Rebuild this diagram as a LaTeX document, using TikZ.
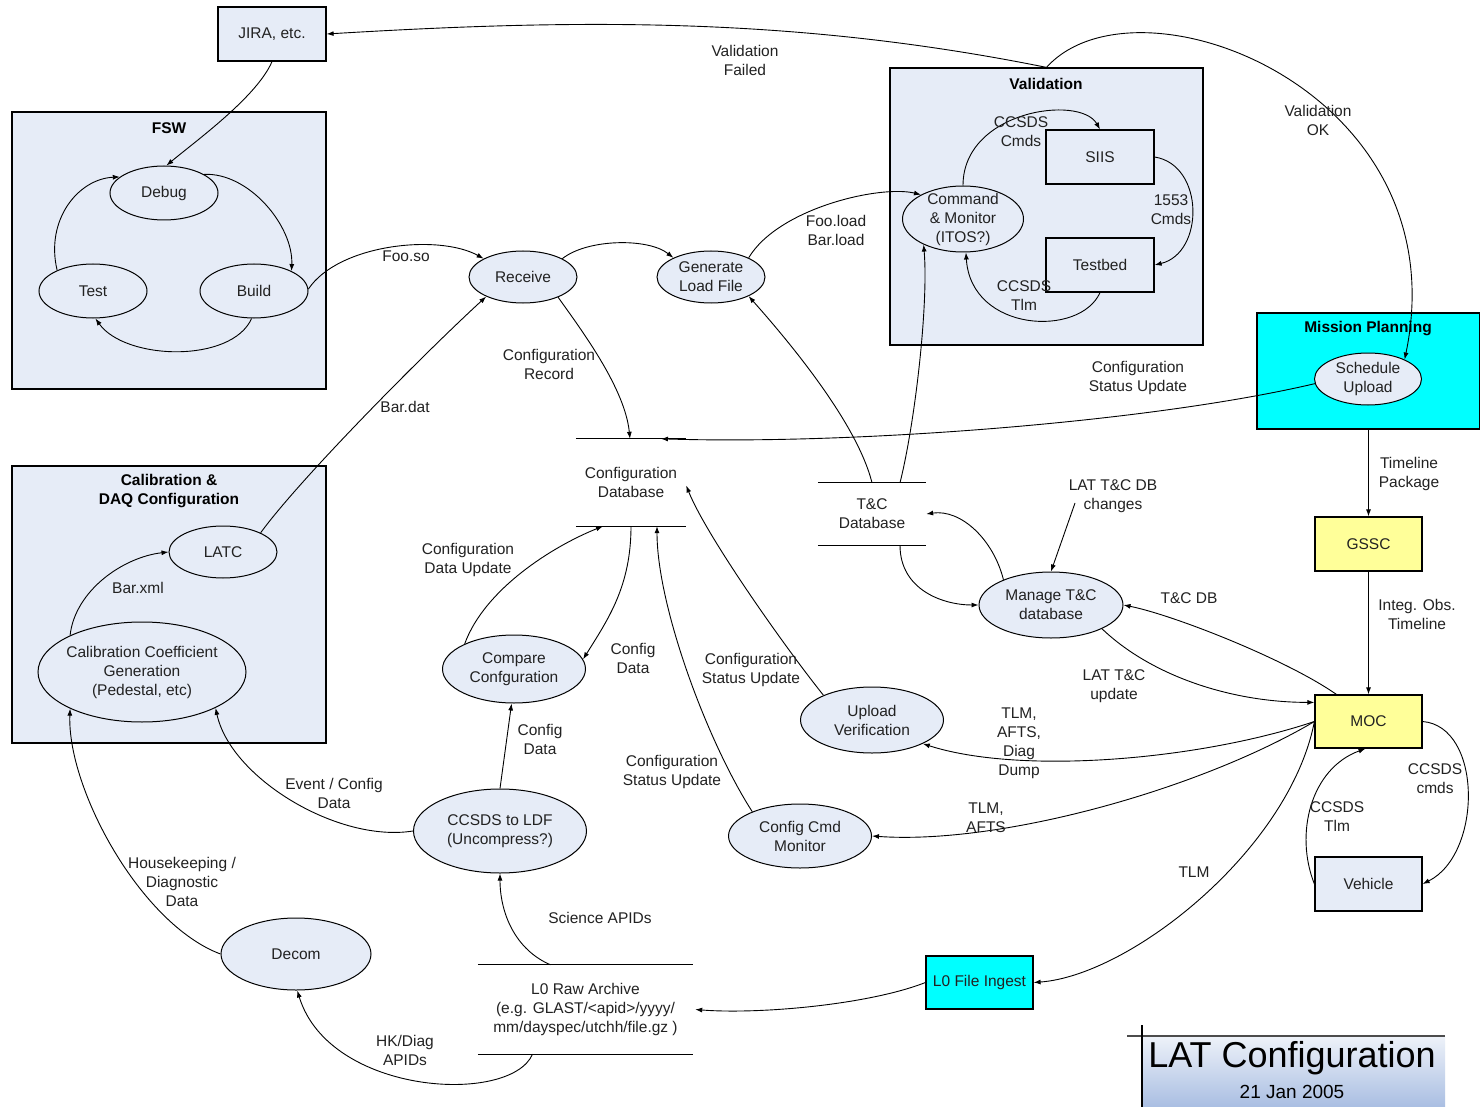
\documentclass[tikz,border=0pt]{standalone}
\usepackage{fontspec}
\setmainfont{Liberation Sans}
\usetikzlibrary{shapes.geometric,arrows.meta,calc}
\definecolor{boxfill}{HTML}{E6ECF7}
\definecolor{mpcyan}{HTML}{00FFFF}
\definecolor{mocyellow}{HTML}{FFFF99}
\definecolor{txt}{HTML}{222222}
\definecolor{titletop}{HTML}{EEF2F9}
\definecolor{titlebot}{HTML}{A9BEE2}
\begin{document}
\begin{tikzpicture}[x=1pt,y=-1pt,
  font=\fontsize{15.5}{19}\selectfont, text=txt,
  procnode/.style={ellipse,draw,fill=boxfill,inner sep=0pt,align=center,line width=1pt},
  boxnode/.style={rectangle,draw,fill=boxfill,inner sep=0pt,align=center,line width=1.2pt},
  groupnode/.style={rectangle,draw,fill=boxfill,inner sep=0pt,line width=1.2pt},
  grouptitle/.style={font=\fontsize{15.5}{19}\selectfont\bfseries,align=center,inner sep=0pt,text=black},
  lblnode/.style={align=center,inner sep=0pt},
  storenode/.style={align=center,inner sep=0pt},
  storeline/.style={line width=1.2pt},
  flowline/.style={line width=0.9pt,-{Latex[length=7pt,width=5pt]}},
]
\useasboundingbox (0,0) rectangle (1480,1107);
\fill[white] (0,0) rectangle (1480,1107);

% ---------- group boxes
\node[groupnode,minimum width=314pt,minimum height=277pt] (fsw) at (169,250.5) {};
\node[grouptitle] (fswtitle) at (169,128) {FSW};
\node[groupnode,minimum width=313pt,minimum height=277pt] (validation) at (1046.5,206.5) {};
\node[grouptitle] (valtitle) at (1046,84) {Validation};
\node[groupnode,minimum width=314pt,minimum height=277pt] (calibgrp) at (169,604.5) {};
\node[grouptitle] (caltitle) at (169,491) {Calibration \&\\DAQ Configuration};
\node[groupnode,fill=mpcyan,minimum width=223pt,minimum height=116pt] (mp) at (1368.5,371) {};
\node[grouptitle] (mptitle) at (1368,329) {Mission Planning};

% ---------- boxes
\node[boxnode,minimum width=108pt,minimum height=54pt] (jira) at (272,34) {JIRA, etc.};
\node[boxnode,minimum width=108pt,minimum height=54pt] (siis) at (1100,157) {SIIS};
\node[boxnode,minimum width=108pt,minimum height=54pt] (testbed) at (1100,265) {Testbed};
\node[boxnode,fill=mocyellow,minimum width=107pt,minimum height=54pt] (gssc) at (1368.5,544) {GSSC};
\node[boxnode,fill=mocyellow,minimum width=107pt,minimum height=53pt] (moc) at (1368.5,721.5) {MOC};
\node[boxnode,minimum width=107pt,minimum height=54pt] (vehicle) at (1368.5,884) {Vehicle};
\node[boxnode,fill=mpcyan,minimum width=107pt,minimum height=53pt] (l0fi) at (979.5,982.5) {L0 File Ingest};

% ---------- processes
\node[procnode,minimum width=108pt,minimum height=54pt] (debug) at (164,193) {Debug};
\node[procnode,minimum width=108pt,minimum height=54pt] (test) at (93,291) {Test};
\node[procnode,minimum width=108pt,minimum height=54pt] (build) at (254,291) {Build};
\node[procnode,minimum width=108pt,minimum height=52pt] (receive) at (523,277) {Receive};
\node[procnode,minimum width=108pt,minimum height=52pt] (generate) at (711,277) {Generate\\Load File};
\node[procnode,minimum width=121pt,minimum height=66pt,inner ysep=-3pt] (cm) at (963,219) {Command\\\& Monitor\\(ITOS?)};
\node[procnode,minimum width=107pt,minimum height=52pt] (schedule) at (1368,379) {Schedule\\Upload};
\node[procnode,minimum width=108pt,minimum height=52pt] (latc) at (223,552) {LATC};
\node[procnode,minimum width=208pt,minimum height=100pt,inner xsep=-5pt] (calib) at (142,672) {Calibration Coefficient\\Generation\\(Pedestal, etc)};
\node[procnode,minimum width=143pt,minimum height=68pt] (compare) at (514,669) {Compare\\Confguration};
\node[procnode,minimum width=173pt,minimum height=84pt] (ldf) at (500,831) {CCSDS to LDF\\(Uncompress?)};
\node[procnode,minimum width=143pt,minimum height=66pt] (uv) at (872,720) {Upload\\Verification};
\node[procnode,minimum width=143pt,minimum height=64pt] (ccm) at (800,836) {Config Cmd\\Monitor};
\node[procnode,minimum width=144pt,minimum height=66pt] (manage) at (1051,605) {Manage T\&C\\database};
\node[procnode,minimum width=150pt,minimum height=72pt] (decom) at (296,954) {Decom};

% ---------- data stores
\node[storenode,minimum width=110pt,minimum height=87pt] (cfgdb) at (631,482.5) {Configuration\\Database};
\draw[storeline] (cfgdb.north west) -- (cfgdb.north east);
\draw[storeline] (cfgdb.south west) -- (cfgdb.south east);
\node[storenode,minimum width=108pt,minimum height=62pt] (tcdb) at (872,514) {T\&C\\Database};
\draw[storeline] (tcdb.north west) -- (tcdb.north east);
\draw[storeline] (tcdb.south west) -- (tcdb.south east);
\node[storenode,minimum width=215pt,minimum height=89pt] (l0) at (585.5,1009.5) {L0 Raw Archive\\(e.g. GLAST/<apid>/yyyy/\\mm/dayspec/utchh/file.gz )};
\draw[storeline] (l0.north west) -- (l0.north east);
\draw[storeline] (l0.south west) -- (l0.south east);

\coordinate (chg) at (1075,503);

% ---------- connectors: FSW
\draw[flowline] (jira.south) .. controls +(-15,35) and +(30,-25) .. (debug.85);
\draw[flowline] (test.150) .. controls +(-12,-50) and +(-42,2) .. (debug.160);
\draw[flowline] (debug.25) .. controls +(45,-2) and +(2,-45) .. (build.28);
\draw[flowline] (build.265) .. controls +(-20,45) and +(30,42) .. (test.275);
\draw[flowline] (build.2) .. controls +(30,-45) and +(-45,-25) .. (receive.155);
\draw[flowline] (receive.25) .. controls +(25,-20) and +(-25,-20) .. (generate.153);
\draw[flowline] (generate.27) .. controls +(30,-50) and +(-40,-10) .. (cm.150);

% validation
\draw[flowline] (validation.north) .. controls +(-253,-51) and +(250,-15) .. (jira.east);
\draw[flowline] (validation.north) .. controls +(90,-100) and +(56,-270) .. (schedule.28);
\draw[flowline] (cm.90) .. controls +(0,-75) and +(-20,-35) .. (siis.north);
\draw[flowline] (siis.east) .. controls +(50,8) and +(50,-12) .. (testbed.east);
\draw[flowline] (testbed.south) .. controls +(-20,45) and +(5,80) .. (cm.275);

% T&C database
\draw[flowline] ([xshift=28pt]tcdb.north) .. controls +(15,-60) and +(5,60) .. (cm.213);
\draw[flowline] (tcdb.north) .. controls +(-15,-60) and +(40,45) .. (generate.-27);
\draw[flowline] (manage.152) .. controls +(-10,-40) and +(35,-5) .. (tcdb.east);
\draw[flowline] ([xshift=28pt]tcdb.south) .. controls +(0,45) and +(-35,0) .. (manage.west);
\draw[flowline] (chg) -- (manage.north);

% configuration database
\draw[flowline] (receive.-30) .. controls +(25,35) and +(-5,-50) .. ([xshift=-1pt]cfgdb.north);
\draw[flowline] (schedule.185) .. controls +(-166,39) and +(190,6) .. ([xshift=30pt]cfgdb.north);
\draw[flowline] (uv.153) .. controls +(-40,-50) and +(20,50) .. ([yshift=-3pt]cfgdb.east);
\draw[flowline] (ccm.153) .. controls +(-45,-70) and +(0,80) .. ([xshift=26pt]cfgdb.south);
\draw[flowline] (cfgdb.south) .. controls +(0,60) and +(25,-40) .. (compare.8);
\draw[flowline] (compare.153) .. controls +(20,-55) and +(-50,20) .. ([xshift=-28pt]cfgdb.south);
\draw[flowline] (ldf.north) -- (compare.266);

% calibration and archive
\draw[flowline] (ldf.west) .. controls +(-75,12) and +(15,70) .. (calib.-26);
\draw[flowline] (decom.west) .. controls +(-80,-30) and +(-3,80) .. (calib.207);
\draw[flowline] ([xshift=-35pt]l0.north) .. controls +(-35,-15) and +(0,40) .. (ldf.south);
\draw[flowline] ([xshift=-53pt]l0.south) .. controls +(-22,51) and +(32,105) .. (decom.272);
\draw[flowline] (l0fi.west) .. controls +(-56,22) and +(65,5) .. ([xshift=2pt]l0.east);
\draw[flowline] (latc.27) .. controls +(40,-55) and +(-60,55) .. (receive.208);
\draw[flowline] (calib.153) .. controls +(5,-45) and +(-45,5) .. (latc.west);

% MOC
\draw[flowline] (mp.south) -- (gssc.north);
\draw[flowline] (gssc.south) -- (moc.north);
\draw[flowline] (manage.-25) .. controls +(48,46) and +(-85,0) .. ([yshift=-8pt]moc.north west);
\draw[flowline] ([xshift=22pt]moc.north west) .. controls +(-50,-35) and +(50,10) .. (manage.east);
\draw[flowline] (moc.west) .. controls +(-115,38.5) and +(98,31.5) .. (uv.-25);
\draw[flowline] (moc.west) .. controls +(-115,68) and +(128,9) .. (ccm.east);
\draw[flowline] (moc.west) .. controls +(-25,128) and +(97,-7) .. (l0fi.east);
\draw[flowline] (moc.east) .. controls +(60,5) and +(60,-30) .. (vehicle.east);
\draw[flowline] (vehicle.west) .. controls +(-20,-50) and +(-55,20) .. ([xshift=-3pt]moc.south);

% ---------- labels
\node[lblnode] (lvf) at (745,60) {Validation\\Failed};
\node[lblnode] (lvok) at (1318,120) {Validation\\OK};
\node[lblnode] (lfoo) at (406,256) {Foo.so};
\node[lblnode] (lfl) at (836,230) {Foo.load\\Bar.load};
\node[lblnode] (lccmd) at (1021,132) {CCSDS\\Cmds};
\node[lblnode] (l1553) at (1171,210) {1553\\Cmds};
\node[lblnode] (lctlm) at (1024,296) {CCSDS\\Tlm};
\node[lblnode] (lcrec) at (549,364) {Configuration\\Record};
\node[lblnode] (lcsu1) at (1138,378) {Configuration\\Status Update};
\node[lblnode] (lbardat) at (405,407) {Bar.dat};
\node[lblnode] (lbarxml) at (138,588) {Bar.xml};
\node[lblnode] (lcdu) at (468,560) {Configuration\\Data Update};
\node[lblnode] (lcd1) at (633,658) {Config\\Data};
\node[lblnode] (lcd2) at (540,739) {Config\\Data};
\node[lblnode] (lcsu2) at (751,670) {Configuration\\Status Update};
\node[lblnode] (lcsu3) at (672,772) {Configuration\\Status Update};
\node[lblnode] (levt) at (334,793) {Event / Config\\Data};
\node[lblnode] (lhk) at (182,882) {Housekeeping /\\Diagnostic\\Data};
\node[lblnode] (lsci) at (600,918) {Science APIDs};
\node[lblnode] (lhkd) at (405,1050) {HK/Diag\\APIDs};
\node[lblnode] (lchg) at (1113,496) {LAT T\&C DB\\changes};
\node[lblnode] (ltcdb) at (1189,598) {T\&C DB};
\node[lblnode] (lupd) at (1114,686) {LAT T\&C\\update};
\node[lblnode] (ltlm1) at (1019,743) {TLM,\\AFTS,\\Diag\\Dump};
\node[lblnode] (ltlm2) at (986,818) {TLM,\\AFTS};
\node[lblnode] (ltlm3) at (1194,872) {TLM};
\node[lblnode] (ltp) at (1409,474) {Timeline\\Package};
\node[lblnode] (lint) at (1417,614) {Integ. Obs.\\Timeline};
\node[lblnode] (lcmds) at (1435,779) {CCSDS\\cmds};
\node[lblnode] (lvtlm) at (1337,817) {CCSDS\\Tlm};

% ---------- title block
\shade[top color=titletop,bottom color=titlebot] (1142,1036) rectangle (1445,1107);
\draw[line width=1.5pt,black!70] (1127,1036) -- (1445,1036);
\draw[line width=1.2pt] (1142,1025) -- (1142,1107);
\node[inner sep=0pt,text=black] (titlemain) at (1292,1058) {\fontsize{36}{40}\selectfont LAT Configuration};
\node[inner sep=0pt,text=black] (titledate) at (1292,1092) {\fontsize{19}{22}\selectfont 21 Jan 2005};
\end{tikzpicture}
\end{document}
